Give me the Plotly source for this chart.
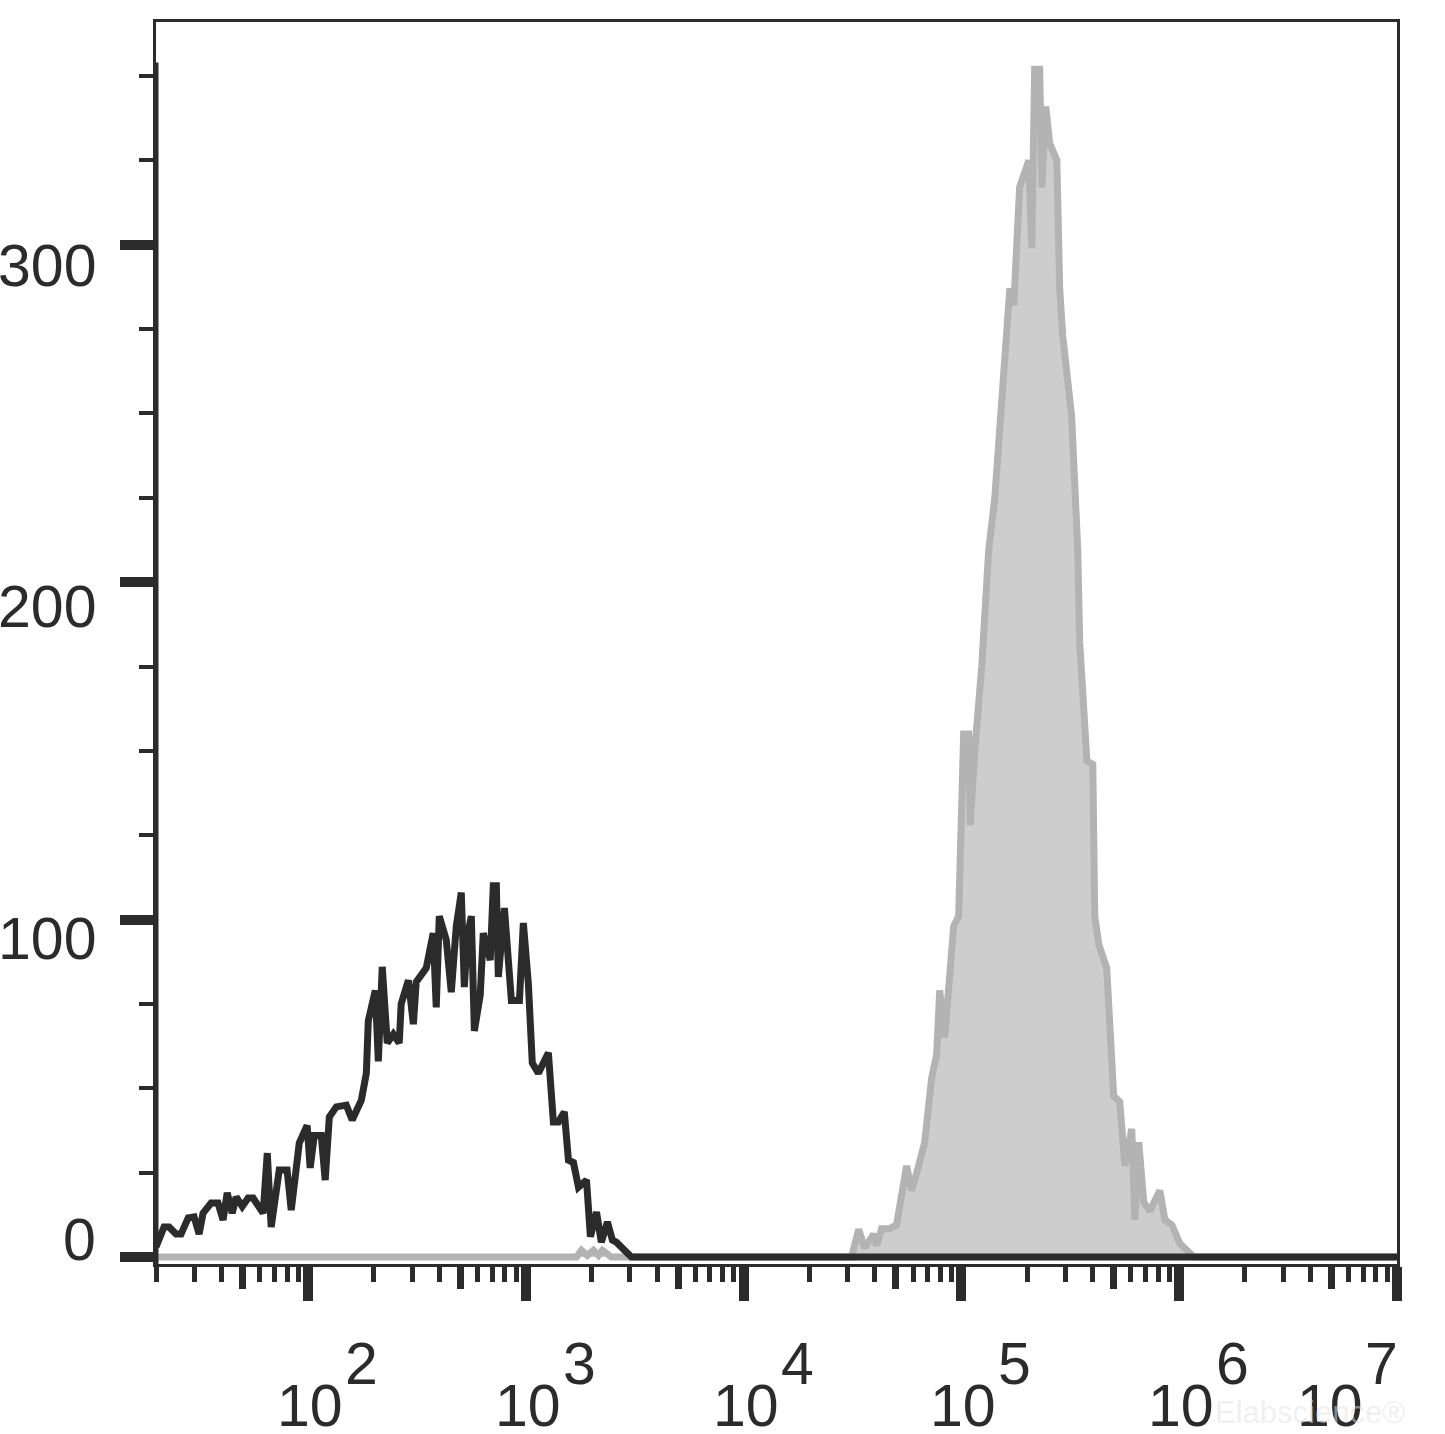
import math
import plotly.graph_objects as go

# ---------------- data ----------------
# x positions are fluorescence intensities expressed in decades (log10 units)
black_log_fl = [1.301, 1.338, 1.361, 1.393, 1.416, 1.449, 1.476, 1.499, 1.517, 1.554,
                1.586, 1.609, 1.628, 1.651, 1.669, 1.697, 1.724, 1.747, 1.793, 1.812,
                1.830, 1.867, 1.903, 1.922, 1.959, 1.995, 2.009, 2.028, 2.060, 2.078,
                2.097, 2.129, 2.175, 2.202, 2.244, 2.267, 2.276, 2.308, 2.322, 2.340,
                2.363, 2.391, 2.418, 2.427, 2.460, 2.483, 2.496, 2.542, 2.574, 2.588,
                2.602, 2.634, 2.657, 2.680, 2.703, 2.717, 2.731, 2.749, 2.763, 2.790,
                2.804, 2.836, 2.850, 2.864, 2.873, 2.901, 2.933, 2.970, 2.988, 3.011,
                3.029, 3.057, 3.103, 3.126, 3.149, 3.176, 3.195, 3.218, 3.241, 3.278,
                3.296, 3.324, 3.346, 3.374, 3.397, 3.415, 3.484, 7.0]
black_counts = [3, 8.9, 8.9, 6.8, 6.8, 11.6, 11.9, 6.8, 13, 16,
                16, 11, 19, 13, 17.8, 15, 17.5, 17.5, 13, 30.8,
                8.9, 25.8, 25.8, 13.9, 33.8, 39, 26.4, 36, 36, 22.8,
                41.5, 44.5, 45, 40.6, 46.5, 54.5, 70, 79, 58, 86,
                63.4, 66, 63.4, 75, 82, 69, 81.5, 85.6, 96, 74,
                101, 94, 78.5, 98, 108, 80, 95, 101, 67, 77.7,
                96, 88, 110, 110, 83, 103.4, 76, 76, 99, 81,
                57.5, 54.5, 60.5, 40, 40, 43, 28.7, 28, 20.7, 22.8,
                6, 13.3, 4.4, 10.4, 5, 4.4, 0, 0]

gray_log_fl = [1.301, 3.232, 3.255, 3.282, 3.310, 3.333, 3.351, 3.392, 4.495, 4.528,
               4.555, 4.597, 4.610, 4.633, 4.670, 4.702, 4.748, 4.771, 4.803, 4.831,
               4.863, 4.886, 4.900, 4.923, 4.964, 4.987, 5.010, 5.033, 5.040, 5.061,
               5.093, 5.125, 5.153, 5.171, 5.189, 5.222, 5.240, 5.267, 5.309, 5.323,
               5.336, 5.359, 5.369, 5.387, 5.405, 5.438, 5.451, 5.465, 5.506, 5.534,
               5.543, 5.576, 5.603, 5.612, 5.631, 5.667, 5.699, 5.727, 5.750, 5.782,
               5.796, 5.814, 5.837, 5.865, 5.911, 5.934, 5.966, 6.003, 6.067, 7.0]
gray_counts = [0, 0, 2, 0.5, 2, 0.5, 2, 0, 0, 8.2,
               2.7, 6.8, 3.4, 8.4, 8.4, 9.5, 27, 19.7, 27, 34,
               53, 60, 79, 65, 98, 101, 155, 155, 128, 150,
               175, 209.5, 225, 242, 263, 287, 282, 317, 325, 299,
               352, 352, 317, 341, 330, 325, 287, 273, 249, 209.5,
               182, 147, 146, 101, 92.5, 85.6, 47.7, 46, 27, 38,
               11, 34, 16.3, 13.6, 19.7, 11, 9.5, 4, 0, 0]

x_decades = [2, 3, 4, 5, 6, 7]
x_min_value = 20
x_max_value = 1e7
y_tick_values = [0, 100, 200, 300]
y_tick_labels = ["0", "100", "200", "300"]
y_minor_values = [25, 50, 75, 125, 150, 175, 225, 250, 275, 325, 350]

assert len(black_log_fl) == len(black_counts)
assert len(gray_log_fl) == len(gray_counts)

# ---------------- styling ----------------
INK = "#2b2b2b"
FONT = "Liberation Sans, Arial, sans-serif"
FS = 59
Y_RANGE = [-2.07, 366.0]

major_x = [10 ** d for d in x_decades]
mid_x = [5 * 10 ** d for d in range(1, 7)]
minor_x = [m * 10 ** d for d in range(1, 7) for m in (2, 3, 4, 6, 7, 8, 9)]

fig = go.Figure()

fig.add_trace(go.Scatter(
    x=[10 ** v for v in gray_log_fl], y=gray_counts,
    mode="lines", line=dict(color="#b3b3b3", width=7),
    fill="tozeroy", fillcolor="#cdcdcd",
    hoverinfo="skip", showlegend=False))

fig.add_trace(go.Scatter(
    x=[10 ** v for v in black_log_fl], y=black_counts,
    mode="lines", line=dict(color=INK, width=7),
    hoverinfo="skip", showlegend=False))

# empty trace so the overlaid axis carrying the mid-decade ticks is drawn
fig.add_trace(go.Scatter(x=[], y=[], xaxis="x2", yaxis="y",
                         hoverinfo="skip", showlegend=False))

fig.update_layout(
    width=1445, height=1434, autosize=False,
    margin=dict(l=156, r=48, t=22, b=170, pad=0),
    paper_bgcolor="white", plot_bgcolor="white",
    xaxis=dict(
        type="log", range=[math.log10(x_min_value), math.log10(x_max_value)],
        tickmode="array", tickvals=major_x, ticks="outside",
        ticklen=34, tickwidth=10, tickcolor=INK,
        showticklabels=False, showgrid=False, zeroline=False,
        showline=True, linewidth=3, linecolor=INK, mirror=True,
        minor=dict(tickmode="array", tickvals=minor_x, ticks="outside",
                   ticklen=15, tickwidth=5, tickcolor=INK, showgrid=False),
    ),
    xaxis2=dict(
        type="log", range=[math.log10(x_min_value), math.log10(x_max_value)],
        overlaying="x", anchor="y", side="bottom",
        tickmode="array", tickvals=mid_x, ticks="outside",
        ticklen=24, tickwidth=7, tickcolor=INK,
        showticklabels=False, showgrid=False, zeroline=False, showline=False,
    ),
    yaxis=dict(
        range=Y_RANGE, tickmode="array", tickvals=y_tick_values,
        ticks="outside", ticklen=33, tickwidth=10, tickcolor=INK,
        showticklabels=False, showgrid=False, zeroline=False,
        showline=True, linewidth=3, linecolor=INK, mirror=True,
        minor=dict(tickmode="array", tickvals=y_minor_values, ticks="outside",
                   ticklen=14, tickwidth=4, tickcolor=INK, showgrid=False),
    ),
)

# thick left spine
fig.add_shape(type="line", xref="paper", yref="y", x0=0, x1=0,
              y0=Y_RANGE[0], y1=354, line=dict(color=INK, width=5))

# y tick labels
y_label_shift = [17, -19, -25, -21]
for val, txt, ys in zip(y_tick_values, y_tick_labels, y_label_shift):
    fig.add_annotation(text=txt, xref="paper", x=0, xanchor="right", xshift=-58,
                       yref="y", y=val, yanchor="middle", yshift=ys,
                       showarrow=False, font=dict(family=FONT, size=FS, color=INK))

# x tick labels: "10" with a full-size raised exponent
base_xshift = [2, 2, 2, 2, 2, -67]
for d, bs in zip(x_decades, base_xshift):
    fig.add_annotation(text="10", xref="x", x=d, xanchor="center", xshift=bs,
                       yref="paper", y=0, yanchor="middle", yshift=-142,
                       showarrow=False, font=dict(family=FONT, size=FS, color=INK))
    fig.add_annotation(text=str(d), xref="x", x=d, xanchor="left", xshift=bs + 33,
                       yref="paper", y=0, yanchor="middle", yshift=-100,
                       showarrow=False, font=dict(family=FONT, size=FS, color=INK))

# faint watermark
fig.add_annotation(text="Elabscience®", xref="paper", x=0.93, xanchor="center",
                   yref="paper", y=0, yanchor="middle", yshift=-148,
                   showarrow=False, font=dict(family=FONT, size=31, color="rgba(225,225,225,0.5)"))

fig.write_html("out.html",
               config={"displayModeBar": False},
               post_script="document.body.style.margin='0px';document.body.style.overflow='hidden';")
